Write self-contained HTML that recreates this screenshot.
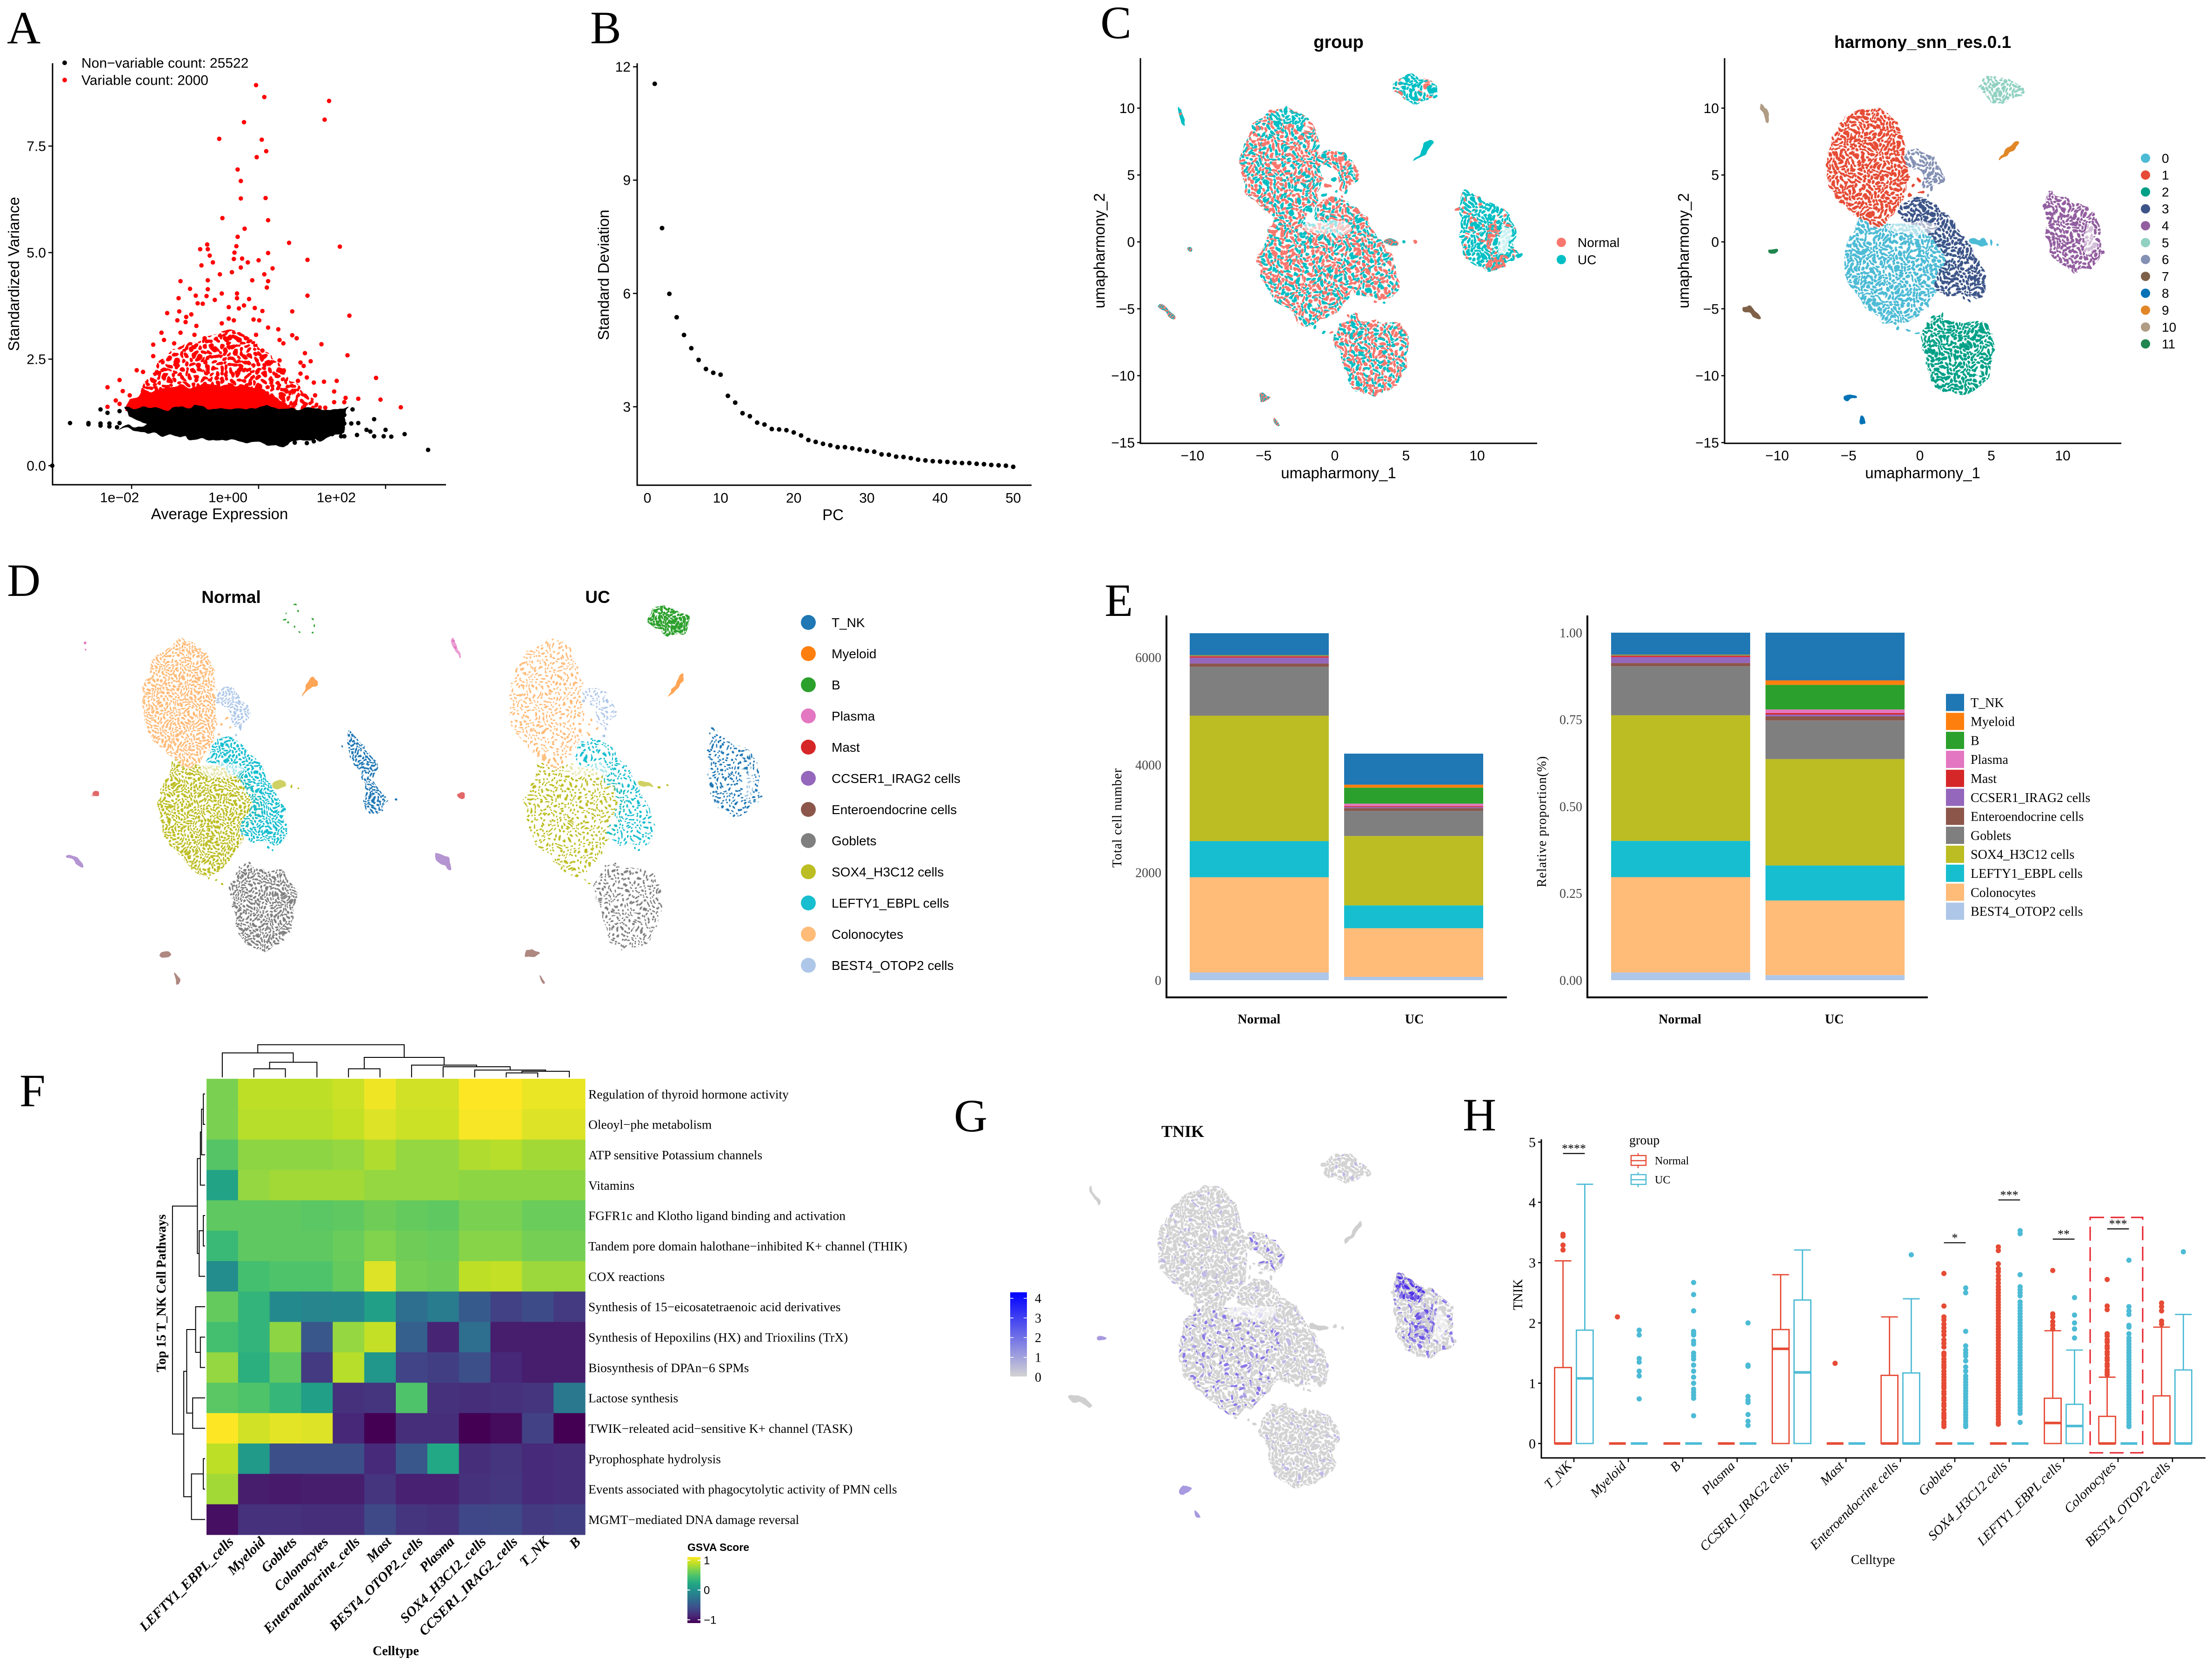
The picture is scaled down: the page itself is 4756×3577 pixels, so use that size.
<!DOCTYPE html>
<html lang="en">
<head>
<meta charset="utf-8">
<title>Single-cell analysis multi-panel figure</title>
<style>
html,body{margin:0;padding:0;background:#fff}
svg{display:block}
.panel-letter{font-family:"Liberation Serif",serif;font-size:100px;fill:#000}
.sans{font-family:"Liberation Sans",sans-serif}
.serif{font-family:"Liberation Serif",serif}
</style>
</head>
<body>
<svg id="fig" xmlns="http://www.w3.org/2000/svg" width="4756" height="3577" viewBox="0 0 4756 3577">
<defs id="defs">
<filter id="rough" x="-10%" y="-10%" width="120%" height="120%" color-interpolation-filters="sRGB">
<feTurbulence type="fractalNoise" baseFrequency="0.035" numOctaves="2" seed="4" result="n"/>
<feDisplacementMap in="SourceGraphic" in2="n" scale="22" xChannelSelector="R" yChannelSelector="G"/>
</filter>
<linearGradient id="tnik-gradient" x1="0" y1="1" x2="0" y2="0"><stop offset="0" stop-color="#d3d3d3"/><stop offset="1" stop-color="#0000ff"/></linearGradient>
<linearGradient id="gsva-gradient" x1="0" y1="1" x2="0" y2="0">
<stop offset="0" stop-color="#440154"/><stop offset=".1" stop-color="#482475"/><stop offset=".2" stop-color="#414487"/><stop offset=".3" stop-color="#355f8d"/><stop offset=".4" stop-color="#2a788e"/><stop offset=".5" stop-color="#21918c"/><stop offset=".6" stop-color="#22a884"/><stop offset=".7" stop-color="#44bf70"/><stop offset=".8" stop-color="#7ad151"/><stop offset=".9" stop-color="#bddf26"/><stop offset="1" stop-color="#fde725"/>
</linearGradient>
</defs>
<rect x="0" y="0" width="4756" height="3577" fill="#fff"/>

<text class="panel-letter" x="15" y="93">A</text>
<text class="panel-letter" x="1269" y="93">B</text>
<text class="panel-letter" x="2366" y="82">C</text>
<text class="panel-letter" x="15" y="1281">D</text>
<text class="panel-letter" x="2375" y="1324">E</text>
<text class="panel-letter" x="42" y="2378">F</text>
<text class="panel-letter" x="2051" y="2432">G</text>
<text class="panel-letter" x="3145" y="2430">H</text>

<g id="panel-a">
<text class="sans" x="472" y="1116" font-size="33" text-anchor="middle">Average Expression</text>
<text class="sans" x="41" y="589" font-size="33" text-anchor="middle" transform="rotate(-90 41 589)">Standardized Variance</text>
</g>
<g id="panel-b">
<text class="sans" x="1791" y="1118" font-size="33" text-anchor="middle">PC</text>
<text class="sans" x="1309" y="591" font-size="33" text-anchor="middle" transform="rotate(-90 1309 591)">Standard Deviation</text>
</g>
<g id="panel-c1">
<text class="sans" x="2878" y="103" font-size="38" font-weight="700" text-anchor="middle">group</text>
<text class="sans" x="2878" y="1028" font-size="33" text-anchor="middle">umapharmony_1</text>
<text class="sans" x="2375" y="539" font-size="33" text-anchor="middle" transform="rotate(-90 2375 539)">umapharmony_2</text>
</g>
<g id="panel-c2">
<text class="sans" x="4134" y="103" font-size="37" font-weight="700" text-anchor="middle">harmony_snn_res.0.1</text>
<text class="sans" x="4134" y="1028" font-size="33" text-anchor="middle">umapharmony_1</text>
<text class="sans" x="3631" y="539" font-size="33" text-anchor="middle" transform="rotate(-90 3631 539)">umapharmony_2</text>
</g>
<g id="panel-d">
<text class="sans" x="497" y="1296" font-size="37" font-weight="700" text-anchor="middle">Normal</text>
<text class="sans" x="1285" y="1296" font-size="37" font-weight="700" text-anchor="middle">UC</text>
</g>
<g id="panel-e">
<text class="serif" x="2411" y="1758" font-size="28" letter-spacing="1" text-anchor="middle" transform="rotate(-90 2411 1758)">Total cell number</text>
<text class="serif" x="3324" y="1766" font-size="28" letter-spacing="1" text-anchor="middle" transform="rotate(-90 3324 1766)">Relative proportion(%)</text>
</g>
<g id="panel-f">
<text class="serif" x="851" y="3558" font-size="28" font-weight="700" text-anchor="middle">Celltype</text>
<text class="serif" x="356" y="2780" font-size="28" font-weight="700" text-anchor="middle" transform="rotate(-90 356 2780)">Top 15 T_NK Cell Pathways</text>
<text class="sans" x="1478" y="3334" font-size="23" font-weight="700">GSVA Score</text>
<rect x="1478" y="3347" width="28" height="142" fill="url(#gsva-gradient)"/>
</g>
<g id="panel-g">
<text class="serif" x="2543" y="2444" font-size="36" font-weight="700" text-anchor="middle">TNIK</text>
<rect x="2172" y="2778" width="36" height="181" fill="url(#tnik-gradient)"/>
</g>
<g id="panel-h">
<text class="serif" x="4027" y="3362" font-size="28" text-anchor="middle">Celltype</text>
<text class="serif" x="3273" y="2783" font-size="28" text-anchor="middle" transform="rotate(-90 3273 2783)">TNIK</text>
<text class="serif" x="3503" y="2460" font-size="28">group</text>
<g>
<line x1="3522" y1="2479" x2="3522" y2="2511" stroke="#E64B35" stroke-width="2.5"/>
<rect x="3507" y="2484" width="32" height="21" fill="#fff" stroke="#E64B35" stroke-width="2.5"/>
<line x1="3507" y1="2495" x2="3539" y2="2495" stroke="#E64B35" stroke-width="2.5"/>
<text class="serif" x="3558" y="2503" font-size="24">Normal</text>
</g>
<g>
<line x1="3522" y1="2520" x2="3522" y2="2552" stroke="#4DBBD5" stroke-width="2.5"/>
<rect x="3507" y="2525" width="32" height="21" fill="#fff" stroke="#4DBBD5" stroke-width="2.5"/>
<line x1="3507" y1="2536" x2="3539" y2="2536" stroke="#4DBBD5" stroke-width="2.5"/>
<text class="serif" x="3558" y="2544" font-size="24">UC</text>
</g>
</g>
</svg>

<script>
/* ---------- Panel A data: log10 average expression, standardized variance ---------- */
const aLegendLabels = ["Non\u2212variable count: 25522", "Variable count: 2000"];
const aYTicks = [0, 2.5, 5, 7.5];
const aYTickLabels = ["0.0", "2.5", "5.0", "7.5"];
const aXTicks = [-2, 0, 2];
const aXTickLabels = ["1e\u221202", "1e+00", "1e+02"];
const aVariableLogExpr = [-0.04,0.09,1.11,1.04,-0.23,-0.62,0.05,0.12,-0.03,-0.33,-0.28,0.11,-0.28,-0.57,0.15,-0.22,-0.33,0.48,1.28,-0.35,-0.81,-0.92,-0.80,-0.38,0.15,-0.77,-0.39,0.77,0,-0.26,-0.17,-0.72,-0.90,-0.28,0.22,-0.42,-0.61,0.09,-1.23,-0.80,-0.10,0.15,0.13,-1.08,-0.80,-0.34,-0.99,0.77,-0.58,-1.26,-0.82,-0.15,-0.34,-0.96,-0.88,-0.69,-1.44,-1.25,-0.47,-0.23,-0.31,-0.06,0.06,0.53,1.43,-1.06,-1.14,-1.28,-0.47,-0.39,-1.15,-0.08,0.01,-0.58,-0.98,0.15,0.31,-1.23,-1.53,-1.01,-0.04,0.53,0.60,-0.85,-0.53,-0.20,0.33,-1.49,-1.66,0.99,0.39,-1.33,-0.74,-0.42,0.06,0.73,1.40,-1.66,0.66,0.82,0.33,1.85,-2.19,-2.38,-2.14,1.92,2.24,1.57,1.37,1.23,1.03,0.87,0.66,0.76,0.71,0.62,-1.92,-1.82,0.89,1.19,0.44,1.35,1.19,1.05,-2.38,-2.25,-2.19,-2.03];
const aVariableVariance = [8.93,8.65,8.56,8.12,8.06,7.67,7.65,7.38,7.24,6.95,6.68,6.28,6.27,5.81,5.76,5.56,5.37,5.23,5.14,5.15,5.19,5.08,5.08,5.0,4.99,4.93,4.85,4.83,4.82,4.86,4.77,4.77,4.70,4.65,4.63,4.54,4.49,4.49,4.33,4.35,4.35,4.33,4.18,4.15,4.14,4.04,3.99,3.99,4.04,3.93,3.98,3.91,3.93,3.81,3.80,3.89,3.58,3.62,3.72,3.76,3.69,3.70,3.63,3.62,3.52,3.55,3.49,3.41,3.45,3.41,3.37,3.43,3.41,3.34,3.28,3.24,3.2,3.12,3.12,3.07,3.07,3.06,2.99,2.99,2.99,2.99,2.95,2.95,2.84,2.85,2.87,2.87,2.82,2.78,2.70,2.64,2.59,2.57,2.42,2.45,2.47,2.06,2.01,1.84,1.75,1.55,1.37,1.57,1.59,1.99,1.97,1.95,2.16,2.07,2.34,1.99,2.24,2.2,1.65,1.74,1.74,1.49,1.49,1.36,1.38,1.53,1.45,1.65];
const aOtherLogExpr = [-2.49,-2.38,-2.19,-2.97,-2.68,-2.68,-2.49,-2.35,-2.19,-2.49,-2.35,-2.23,1.35,1.48,1.35,1.35,1.57,1.46,1.82,1.55,1.70,1.76,2.0,1.82,1.97,2.09,2.30,2.67,-3.25,0.76,0.87,0.57,1.16,1.30,1.09,0.92,1.09];
const aOtherVariance = [1.32,1.24,1.28,1.0,1.0,0.97,0.99,0.99,1.0,0.94,0.92,0.90,1.19,1.32,0.99,0.69,1.0,0.99,1.09,0.72,0.84,0.80,0.84,0.69,0.69,0.68,0.74,0.37,0,0.53,0.57,0.54,0.74,0.69,0.90,1.07,1.15];
const aBlackDensityRegion = [[-2.09,1.36],[0.95,1.36],[0.95,0.62],[0.66,0.55],[0.23,0.47],[-0.31,0.55],[-1.17,0.66],[-2.25,0.85],[-1.76,0.96],[-2.03,1.15]];
const aBlackSparseRegion = [[0.9,1.36],[1.38,1.32],[1.35,0.85],[1.0,0.58],[0.9,0.6]];
const aRedDenseRegion = [[-2.08,1.25],[-2.03,1.55],[-1.76,1.72],[-1.39,1.82],[-0.85,1.9],[-0.42,1.9],[0.06,1.82],[0.33,1.55],[0.7,1.25]];
const aRedSparseRegion = [[-1.95,1.6],[-1.6,2.4],[-1.28,2.85],[-0.85,2.95],[-0.53,3.25],[-0.1,3.05],[0.23,2.45],[0.75,1.7],[1.15,1.3],[0.5,1.3],[-1.5,1.5]];

/* ---------- Panel B data ---------- */
const bPCs = [1,2,3,4,5,6,7,8,9,10,11,12,13,14,15,16,17,18,19,20,21,22,23,24,25,26,27,28,29,30,31,32,33,34,35,36,37,38,39,40,41,42,43,44,45,46,47,48,49,50];
const bStdDev = [11.55,7.73,5.99,5.37,4.90,4.55,4.24,4.0,3.9,3.85,3.29,3.11,2.83,2.75,2.58,2.53,2.41,2.4,2.38,2.32,2.24,2.12,2.07,2.02,1.98,1.93,1.93,1.90,1.87,1.83,1.81,1.74,1.73,1.68,1.67,1.64,1.6,1.58,1.56,1.55,1.54,1.52,1.51,1.51,1.49,1.48,1.46,1.45,1.44,1.41];
const bXTicks = [0,10,20,30,40,50];
const bYTicks = [3,6,9,12];

/* ---------- UMAP cluster outlines in UMAP units ---------- */
const umapXTicks = [-10,-5,0,5,10];
const umapXTickLabels = ["\u221210","\u22125","0","5","10"];
const umapYTicks = [10,5,0,-5,-10,-15];
const umapYTickLabels = ["10","5","0","\u22125","\u221210","\u221215"];
const cluster0Outline = [[-4.18,2.2],[-2.4,1.4],[0.2,1.3],[1.9,0.3],[2.8,-1.4],[1.8,-2.8],[1.1,-3.9],[0.3,-5.2],[-1.38,-6.3],[-2.4,-6.2],[-3.5,-5.0],[-4.9,-3.7],[-5.5,-1.44],[-5.0,0.02],[-4.4,1.25]];
const cluster1Outline = [[-3.16,10.2],[-1.7,9.4],[-1.15,7.84],[-0.9,5.88],[-0.9,3.44],[-1.7,2.22],[-2.91,0.95],[-3.6,1.3],[-4.9,2.4],[-6.2,3.44],[-6.75,5.4],[-6.45,7.35],[-5.4,9.2],[-4.2,9.9]];
const cluster2Outline = [[1.43,-5.2],[1.94,-5.9],[4.23,-5.85],[5.35,-7.06],[5.05,-8.77],[4.85,-10.48],[2.96,-11.55],[1.25,-11.15],[0.7,-9.99],[0.45,-8.52],[-0.3,-7.06],[0.92,-5.8]];
const cluster3Outline = [[-0.87,3.4],[0.66,3.3],[2.4,1.49],[3.7,-0.46],[4.7,-2.9],[4.4,-4.1],[2.96,-4.2],[1.0,-3.8],[1.1,-2.4],[2.0,-1.2],[0.9,0.4],[-0.3,1.3],[-1.8,1.73]];
const cluster4Outline = [[9.08,4.2],[9.95,3.3],[11.75,2.55],[12.7,1.49],[12.6,-0.46],[13.0,-1.07],[11.1,-2.35],[10.25,-2.05],[8.9,-0.95],[8.9,1.25],[8.65,2.71]];
const cluster5Outline = [[5.51,12.65],[6.65,11.95],[7.3,11.38],[7.2,10.7],[6.3,10.6],[5.51,10.3],[4.3,11.05],[3.95,11.7],[4.85,12.4]];
const cluster6Outline = [[-0.36,7.0],[0.75,6.5],[1.7,5.4],[1.6,4.55],[0.66,3.75],[-0.1,4.42],[0.41,5.15],[-1.05,5.64],[-1.05,6.45]];
const cluster7Outline = [[-12.5,-4.6],[-11.0,-5.45],[-11.15,-5.9],[-12.4,-5.15]];
const cluster8aOutline = [[-5.2,-11.3],[-4.1,-11.55],[-5.05,-12.0],[-5.4,-11.85]];
const cluster8bOutline = [[-4.3,-12.85],[-3.75,-13.65],[-4.05,-13.85],[-4.35,-13.3]];
const cluster9Outline = [[6.6,7.7],[6.95,7.55],[6.55,6.8],[6.0,6.4],[5.45,5.95],[6.25,7.1]];
const cluster10Outline = [[-11.0,10.35],[-10.75,9.67],[-10.45,8.75],[-10.75,8.9],[-11.1,9.8]];
const cluster11Outline = [[-10.55,-0.45],[-10.0,-0.5],[-10.05,-0.9],[-10.55,-0.85]];
const cluster0TailOutline = [[3.4,0.4],[4.5,0.1],[4.6,-0.15],[3.4,-0.2]];
const clusterIds = [0,1,2,3,4,5,6,7,8,8,9,10,11,0];
const clusterShapes = [cluster0Outline,cluster1Outline,cluster2Outline,cluster3Outline,cluster4Outline,cluster5Outline,cluster6Outline,cluster7Outline,cluster8aOutline,cluster8bOutline,cluster9Outline,cluster10Outline,cluster11Outline,cluster0TailOutline];
const clusterIsSmall = [false,false,false,false,false,false,false,true,true,true,true,true,true,true];
const clusterColors = ["#4DBBD5","#E64B35","#00A087","#3C5488","#925E9F","#91D1C2","#8491B4","#7E6148","#0072B5","#E18727","#B09C85","#20854E"];
const clusterLabels = ["0","1","2","3","4","5","6","7","8","9","10","11"];
const groupLabels = ["Normal","UC"];
const groupColors = ["#F8766D","#00BFC4"];
const groupTealCap = [[-5.0,9.0],[-3.27,10.1],[-1.9,9.4],[-1.3,8.1],[-2.7,8.6],[-4.2,8.7]];
const groupSalmonPatchA = [[10.5,-1.2],[12.6,-1.05],[11.5,-2.1],[10.7,-2.2]];
const groupSalmonPatchB = [[10.8,1.6],[11.5,1.5],[11.2,0],[10.5,-0.4]];
const normalTNKOutline = [[9.1,3.95],[10.04,3.19],[11.1,2.16],[11.5,1.32],[11.26,-0.1],[12.66,-1.03],[11.87,-1.55],[11.1,-2.13],[10.4,-1.74],[10.58,-0.1],[10.29,0.94],[9.5,1.74],[9.24,2.77]];
const umapSparseHole = [[-2.09,1.39],[0.9,1.7],[1.27,0.76],[-0.6,0.45],[-2.48,0.9]];
const tnkHole = [[11.7,1.5],[12.3,0.9],[12.3,-0.6],[11.6,-1.15],[11.45,0]];
const umapStrayX = [0.6,0.9,0.3,-0.2,-0.5,0.1,-0.9,1.2,1.6,-0.7,-0.3,-1.5,3,3.4,5.5,4.9,0.9,0.5,8.7,-0.6,-0.2,12.9,11.9,-10.9,-10.85];
const umapStrayY = [3.5,3.9,3.1,4.6,4.2,3.9,4.8,-6,-5.4,-6.6,-6.9,-6.4,-4.4,-4.5,-0.1,0,-5.6,-6.2,2.6,3.6,3.3,-0.9,-1.7,9.9,9.5];
const umapStrayCluster = [6,6,3,1,1,1,1,2,2,0,0,0,3,3,0,0,2,2,4,1,3,4,4,10,10];

/* ---------- Panel D data ---------- */
const cellTypes = ["T_NK","Myeloid","B","Plasma","Mast","CCSER1_IRAG2 cells","Enteroendocrine cells","Goblets","SOX4_H3C12 cells","LEFTY1_EBPL cells","Colonocytes","BEST4_OTOP2 cells"];
const cellColors = ["#1f77b4","#ff7f0e","#2ca02c","#e377c2","#d62728","#9467bd","#8c564b","#7f7f7f","#bcbd22","#17becf","#ffbb78","#aec7e8"];
const clusterCellIndex = [8,10,7,9,0,2,11,5,6,1,3,4];

/* ---------- Panel E data ---------- */
const eConditions = ["Normal","UC"];
const eNormalCounts = [408,6,10,5,25,110,60,909,2331,672,1769,143];
const eUCCounts = [578,55,298,44,17,22,50,468,1289,424,904,61];
const eCountTicks = [0,2000,4000,6000];
const eProportionTicks = [0,0.25,0.5,0.75,1];
const eProportionTickLabels = ["0.00","0.25","0.50","0.75","1.00"];

/* ---------- Panel F data ---------- */
const fColumns = ["LEFTY1_EBPL_cells","Myeloid","Goblets","Colonocytes","Enteroendocrine_cells","Mast","BEST4_OTOP2_cells","Plasma","SOX4_H3C12_cells","CCSER1_IRAG2_cells","T_NK","B"];
const fRows = ["Regulation of thyroid hormone activity","Oleoyl\u2212phe metabolism","ATP sensitive Potassium channels","Vitamins","FGFR1c and Klotho ligand binding and activation","Tandem pore domain halothane\u2212inhibited K+ channel (THIK)","COX reactions","Synthesis of 15\u2212eicosatetraenoic acid derivatives","Synthesis of Hepoxilins (HX) and Trioxilins (TrX)","Biosynthesis of DPAn\u22126 SPMs","Lactose synthesis","TWIK\u2212releated acid\u2212sensitive K+ channel (TASK)","Pyrophosphate hydrolysis","Events associated with phagocytolytic activity of PMN cells","MGMT\u2212mediated DNA damage reversal"];
const fRow1 = [.6,.8,.8,.8,.84,.96,.86,.86,1,1,.94,.94];
const fRow2 = [.6,.78,.78,.78,.82,.9,.84,.84,.98,.98,.9,.9];
const fRow3 = [.46,.66,.66,.66,.68,.76,.68,.68,.76,.78,.72,.72];
const fRow4 = [.16,.68,.72,.72,.72,.68,.68,.68,.66,.66,.66,.66];
const fRow5 = [.5,.5,.5,.48,.5,.56,.52,.5,.6,.6,.54,.54];
const fRow6 = [.34,.5,.5,.5,.54,.62,.56,.54,.64,.64,.58,.58];
const fRow7 = [-.04,.4,.44,.44,.52,.9,.58,.56,.8,.82,.7,.7];
const fRow8 = [.52,.3,-.06,-.1,-.08,.12,-.28,-.18,-.44,-.62,-.54,-.66];
const fRow9 = [.4,.3,.66,-.46,.68,.82,-.4,-.8,-.28,-.84,-.84,-.84];
const fRow10 = [.68,.26,.5,-.66,.78,.04,-.6,-.64,-.52,-.78,-.84,-.84];
const fRow11 = [.48,.44,.32,.12,-.72,-.7,.44,-.72,-.74,-.72,-.7,-.2];
const fRow12 = [1,.86,.92,.9,-.78,-1,-.74,-.74,-1,-.94,-.62,-1];
const fRow13 = [.8,.08,-.52,-.52,-.52,-.76,-.46,.2,-.74,-.7,-.76,-.74];
const fRow14 = [.72,-.84,-.86,-.84,-.84,-.7,-.82,-.82,-.72,-.68,-.76,-.74];
const fRow15 = [-.92,-.72,-.72,-.74,-.74,-.56,-.7,-.72,-.58,-.56,-.66,-.64];
const fMatrix = [fRow1,fRow2,fRow3,fRow4,fRow5,fRow6,fRow7,fRow8,fRow9,fRow10,fRow11,fRow12,fRow13,fRow14,fRow15];
const fColorTicks = [1,0,-1];
const fColorTickLabels = ["1","0","\u22121"];
const fColMerges = [[1,2,21],[12,3,37],[0,13,60],[4,5,21],[9,10,11],[16,11,15],[8,17,18],[7,18,26],[6,19,30],[15,20,49],[14,21,80]];
const fRowMerges = [[0,1,3],[15,2,6],[16,3,8],[4,5,3],[18,6,10],[17,19,13],[8,9,8],[7,21,16],[10,11,21],[22,23,31],[12,13,3],[25,14,23],[24,26,36],[20,27,55]];

/* ---------- Panel G data ---------- */
const gColorTicks = [4,3,2,1,0];
const gExpressionLevels = ["gMid","gLow","gLow","gLow","gMid","gLow","gMid","gLow","gMid","gLow","gLow","gMid","gMid","gLow"];
const gTNKHighRegion = [[9.0,4.1],[9.9,3.3],[11.2,2.6],[10.4,1.7],[9.5,2.0],[8.9,2.5]];
const gTNKMidRegion = [[10.6,1.5],[11.6,1.5],[11.4,0],[11.3,-1.1],[10.2,-1.2],[9.6,-0.6]];

/* ---------- Panel H data ---------- */
const hCategories = ["T_NK","Myeloid","B","Plasma","CCSER1_IRAG2 cells","Mast","Enteroendocrine cells","Goblets","SOX4_H3C12 cells","LEFTY1_EBPL cells","Colonocytes","BEST4_OTOP2 cells"];
const hYTicks = [0,1,2,3,4,5];
const hNormalQ3 = [1.26,0,0,0,1.89,0,1.13,0,0,.75,.45,.79];
const hNormalMedian = [0,0,0,0,1.57,0,0,0,0,.34,0,0];
const hNormalWhisker = [3.03,0,0,0,2.8,0,2.1,0,0,1.87,1.1,1.93];
const hUCQ3 = [1.88,0,0,0,2.38,0,1.17,0,0,.65,0,1.22];
const hUCMedian = [1.08,0,0,0,1.18,0,0,0,0,.29,0,0];
const hUCWhisker = [4.3,0,0,0,3.21,0,2.4,0,0,1.55,0,2.14];
const hNormalOutliers = [
 [3.47,3.44,3.29,3.21],[2.1],[],[],[],[1.33],[],
 [2.82,2.28,2.1,2.05,1.98,1.92,1.86,1.8,1.72,1.66,1.6,1.5,1.46,1.4,1.35,1.3,1.26,1.2,1.15,1.1,1.05,1,.96,.92,.86,.82,.76,.72,.66,.62,.56,.5,.46,.42,.36,.32,.28],
 [3.26,3.2,2.98,2.9,2.85,2.78,2.72,2.66,2.6,2.55,2.5,2.45,2.4,2.35,2.3,2.25,2.2,2.15,2.1,2.05,2,1.95,1.9,1.85,1.8,1.75,1.7,1.65,1.6,1.55,1.5,1.45,1.4,1.35,1.3,1.25,1.2,1.15,1.1,1.05,1,.95,.9,.85,.8,.75,.7,.65,.6,.55,.5,.45,.4,.35,.32],
 [2.87,2.15,2.1,2.02,1.96,1.9],
 [2.72,2.28,2.22,1.82,1.78,1.72,1.68,1.62,1.58,1.52,1.48,1.42,1.38,1.32,1.28,1.22,1.18,1.14],
 [2.33,2.27,2.2,2.03,1.98]];
const hUCOutliers = [
 [],[1.88,1.8,1.41,1.35,1.2,1.12,.74],
 [2.67,2.47,2.2,1.86,1.83,1.8,1.7,1.65,1.5,1.45,1.4,1.3,1.2,1.1,1,.9,.85,.8,.75,.46],
 [2,1.3,1.28,.78,.72,.68,.48,.37,.3],[],[],[3.13],
 [2.58,2.5,1.86,1.62,1.55,1.5,1.45,1.37,1.27,1.2,1.12,1.07,1.02,.97,.92,.87,.82,.77,.72,.67,.62,.57,.52,.47,.42,.37,.32,.28],
 [3.53,3.48,2.8,2.6,2.55,2.5,2.45,2.35,2.3,2.25,2.2,2.15,2.1,2.05,2,1.95,1.9,1.85,1.8,1.75,1.7,1.65,1.6,1.55,1.5,1.45,1.4,1.35,1.3,1.25,1.2,1.15,1.1,1.05,1,.95,.9,.85,.8,.75,.7,.65,.6,.55,.5,.35],
 [2.42,2.13,2,1.9,1.75],
 [3.04,2.27,2.2,2.14,1.96,1.93,1.82,1.75,1.7,1.65,1.6,1.55,1.5,1.45,1.4,1.35,1.3,1.25,1.2,1.15,1.1,1.05,1,.95,.9,.85,.8,.75,.7,.65,.6,.55,.5,.45,.4,.35,.3,.28],
 [3.18]];
const hSigLabels = ["****","*","***","**","***"];
const hSigCategory = [0,7,8,9,10];
const hSigValue = [4.81,3.33,4.04,3.39,3.56];

/* ---------- helpers ---------- */
const NS = "http://www.w3.org/2000/svg";
const defs = document.getElementById("defs");
function mk(tag, attrs, parent, text) {
  const el = document.createElementNS(NS, tag);
  for (const k in attrs) el.setAttribute(k, attrs[k]);
  if (text !== undefined) el.textContent = text;
  parent.appendChild(el);
  return el;
}
function label(parent, x, y, str, size, cls, anchor) {
  return mk("text", {x: x, y: y + size * 0.35, "font-size": size, "class": cls, "text-anchor": anchor || "start", fill: "#000"}, parent, str);
}
const speckle = [[.04,.09],[.18,.03],[.31,.12],[.46,.06],[.59,.15],[.74,.04],[.88,.11],[.96,.24],[.09,.23],[.24,.28],[.38,.22],[.52,.30],[.67,.25],[.81,.31],[.02,.38],[.16,.43],[.30,.39],[.44,.46],[.60,.41],[.73,.47],[.90,.42],[.08,.55],[.23,.58],[.37,.61],[.51,.56],[.66,.62],[.82,.57],[.96,.60],[.13,.71],[.28,.75],[.43,.72],[.57,.78],[.72,.74],[.87,.72],[.04,.86],[.20,.90],[.35,.87],[.50,.93],[.65,.89],[.80,.91],[.94,.84]];
function makeLayer(id, colors, r, size, rot, offset) {
  const p = mk("pattern", {id: id, width: size, height: size, patternUnits: "userSpaceOnUse", patternTransform: "rotate(" + rot + ")"}, defs);
  speckle.forEach(function (s, i) {
    mk("circle", {cx: (s[0] * size).toFixed(1), cy: (s[1] * size).toFixed(1), r: r, fill: colors[(i + offset) % colors.length]}, p);
  });
}
function makePattern(id, colors, r, size) {
  makeLayer(id, colors, r, size * 1.2, 13, 0);
  makeLayer(id + "b", colors, r, size * 1.4, -31, 3);
}
function paintRegion(parent, d, patternId, name) {
  [patternId, patternId + "b"].forEach(function (id) {
    const el = mk("path", {d: d, fill: "url(#" + id + ")"}, parent);
    
    
  });
}
function roughGroup(parent, name) {
  const gr = mk("g", {filter: "url(#rough)"}, parent);
  
  
  return gr;
}
function blobPath(pts, fx, fy) {
  const p = pts.map(function (q) { return [fx(q[0]), fy(q[1])]; });
  const n = p.length;
  const mid = function (a, b) { return [(a[0] + b[0]) / 2, (a[1] + b[1]) / 2]; };
  const s = mid(p[n - 1], p[0]);
  let d = "M" + s[0].toFixed(1) + " " + s[1].toFixed(1);
  for (let i = 0; i < n; i++) {
    const m = mid(p[i], p[(i + 1) % n]);
    d += "Q" + p[i][0].toFixed(1) + " " + p[i][1].toFixed(1) + " " + m[0].toFixed(1) + " " + m[1].toFixed(1);
  }
  return d + "Z";
}
function polyPath(pts, fx, fy) {
  return "M" + pts.map(function (q) { return fx(q[0]).toFixed(1) + " " + fy(q[1]).toFixed(1); }).join("L") + "Z";
}
function axisFrame(g, xL, xR, yT, yB, width) {
  const el = mk("path", {d: "M" + xL + " " + yT + "V" + yB + "H" + xR, fill: "none", stroke: "#000", "stroke-width": width}, g);
  
  
}
function yAxisTicks(g, vals, labels, fy, xAxis, len, cls, size, color) {
  vals.forEach(function (v, i) {
    if (len > 0) {
      const t = mk("line", {x1: xAxis - len, x2: xAxis, y1: fy(v), y2: fy(v), stroke: "#000", "stroke-width": 2.5}, g);
      
      
    }
    const lb = label(g, xAxis - len - 5, fy(v), labels[i], size, cls, "end");
    lb.setAttribute("fill", color || "#000");
    
    
  });
}
function xAxisTicks(g, vals, labels, fx, lx, yAxis, len, labelY, cls, size) {
  vals.forEach(function (v, i) {
    if (len > 0) {
      const t = mk("line", {x1: fx(v), x2: fx(v), y1: yAxis, y2: yAxis + len, stroke: "#000", "stroke-width": 2.5}, g);
      
      
    }
    const lb = label(g, lx(v), labelY, labels[i], size, cls, "middle");
    
    
  });
}
function strayPoints(parent, fx, fy, colorOf, r) {
  umapStrayX.forEach(function (v, i) {
    const c = mk("circle", {cx: fx(v), cy: fy(umapStrayY[i]), r: r, fill: colorOf(i)}, parent);
    
    
  });
}
function whiteHole(parent, pts, fx, fy, opacity, name) {
  const h = mk("path", {d: blobPath(pts, fx, fy), fill: "#fff", "fill-opacity": opacity}, parent);
  
  
}

/* ---------- texture patterns ---------- */
clusterColors.forEach(function (c, i) { makePattern("c" + i, [c], 3.3, 48); });
cellColors.forEach(function (c, i) {
  makePattern("dn" + i, [c], 2.3, 40);
  makePattern("du" + i, [c], 2.2, 54);
});
makePattern("dnSparse", [cellColors[2]], 2.6, 170);
makePattern("duDense", [cellColors[2]], 3, 38);
const s = groupColors[0], t = groupColors[1];
makePattern("gpMix", [s, t, s, t, s, t, s], 3.4, 46);
makePattern("gpMixFine", [s, t], 3, 18);
makePattern("gpTeal", [t, t, t, t, t, s, t], 3.4, 46);
makePattern("gpSalmon", [s, s, t, s, s], 3.4, 38);
const g0 = "#d3d3d3";
makePattern("gLow", [g0, g0, g0, g0, g0, g0, g0, "#c2b9e6", g0, g0, g0], 3.5, 46);
makePattern("gMid", [g0, g0, g0, "#a99ce4", g0, g0, g0, "#8a74e8", g0, g0, g0], 3.5, 46);
makePattern("gHigh", ["#5a3ee8", "#7a62e6", g0, "#4a2fe8", "#8f7de6"], 3.5, 44);
makePattern("gMidDense", ["#8f7de6", g0, "#6a50e6", "#b0a5e4", g0], 3.5, 44);
makePattern("aRedSparse", ["#ff0000"], 4.8, 72);
makePattern("aBlackSparse", ["#000"], 4.8, 32);

/* ---------- Panel A ---------- */
(function () {
  const g = document.getElementById("panel-a");
  const fx = function (v) { return 556 + 136.5 * v; };
  const lx = function (v) { return 490 + 116.5 * v; };
  const fy = function (v) { return 1001 - 91.6 * v; };
  const rg = roughGroup(g, "gene-density-regions");
  paintRegion(rg, blobPath(aRedSparseRegion, fx, fy), "aRedSparse", "variable-genes-mid-density");
  const de = mk("path", {d: polyPath(aRedDenseRegion, fx, fy), fill: "#ff0000"}, rg);
  
  
  paintRegion(rg, polyPath(aBlackSparseRegion, fx, fy), "aBlackSparse", "non-variable-genes-sparse-density");
  const bl = mk("path", {d: polyPath(aBlackDensityRegion, fx, fy), fill: "#000"}, rg);
  
  
  aVariableLogExpr.forEach(function (v, i) {
    const c = mk("circle", {cx: fx(v), cy: fy(aVariableVariance[i]), r: 4.8, fill: "#ff0000"}, g);
    
    
  });
  aOtherLogExpr.forEach(function (v, i) {
    const c = mk("circle", {cx: fx(v), cy: fy(aOtherVariance[i]), r: 4.8, fill: "#000"}, g);
    
    
  });
  axisFrame(g, 113, 959, 136, 1042, 3);
  yAxisTicks(g, aYTicks, aYTickLabels, fy, 113, 9, "sans", 30);
  xAxisTicks(g, aXTicks, aXTickLabels, fx, lx, 1042, 9, 1069, "sans", 30);
  aLegendLabels.forEach(function (txt, i) {
    const y = 135 + i * 37;
    const d = mk("circle", {cx: 139, cy: y, r: 5, fill: i === 0 ? "#000" : "#ff0000"}, g);
    
    
    const l = label(g, 175, y, txt, 30, "sans");
    
    
  });
})();

/* ---------- Panel B ---------- */
(function () {
  const g = document.getElementById("panel-b");
  const fx = function (v) { return 1392 + 15.73 * v; };
  const fy = function (v) { return 1118 - 81.2 * v; };
  bPCs.forEach(function (pc, i) {
    const c = mk("circle", {cx: fx(pc), cy: fy(bStdDev[i]), r: 5, fill: "#000"}, g);
    
    
  });
  axisFrame(g, 1370, 2218, 136, 1043, 3);
  yAxisTicks(g, bYTicks, bYTicks.map(String), fy, 1370, 9, "sans", 30);
  xAxisTicks(g, bXTicks, bXTicks.map(String), fx, fx, 1043, 0, 1070, "sans", 30);
})();

/* ---------- Panel C ---------- */
const umapY = function (v) { return 520 - 28.76 * v; };
(function () {
  const g = document.getElementById("panel-c1");
  const fx = function (v) { return 2870 + 30.6 * v; };
  const rg = roughGroup(g, "group-umap-cells");
  clusterShapes.forEach(function (pts, i) {
    const id = clusterIds[i];
    const d = blobPath(pts, fx, umapY);
    if (clusterIsSmall[i]) {
      const teal = id === 9 || id === 10;
      const el = mk("path", {d: d, fill: teal ? groupColors[1] : "url(#gpMixFine)"}, rg);
      
      
    } else {
      paintRegion(rg, d, id === 5 || id === 4 ? "gpTeal" : "gpMix", "group-umap-cluster");
    }
  });
  whiteHole(rg, groupTealCap, fx, umapY, 1, "colonocyte-cap-mask");
  paintRegion(rg, blobPath(groupTealCap, fx, umapY), "gpTeal", "colonocyte-cap-uc");
  whiteHole(rg, tnkHole, fx, umapY, 0.8, "tnk-low-density-area");
  [groupSalmonPatchA, groupSalmonPatchB].forEach(function (pts) {
    paintRegion(rg, blobPath(pts, fx, umapY), "gpSalmon", "tnk-normal-patch");
  });
  whiteHole(rg, umapSparseHole, fx, umapY, 0.6, "low-density-area");
  strayPoints(rg, fx, umapY, function (i) { return groupColors[i % 2]; }, 3.6);
  axisFrame(g, 2452, 3305, 125, 953, 3);
  yAxisTicks(g, umapYTicks, umapYTickLabels, umapY, 2452, 7, "sans", 30);
  xAxisTicks(g, umapXTicks, umapXTickLabels, fx, fx, 953, 0, 979, "sans", 30);
  groupLabels.forEach(function (txt, i) {
    const y = 521 + i * 37;
    const d = mk("circle", {cx: 3357, cy: y, r: 10, fill: groupColors[i]}, g);
    
    
    const l = label(g, 3392, y, txt, 28, "sans");
    
    
  });
})();
(function () {
  const g = document.getElementById("panel-c2");
  const fx = function (v) { return 4128 + 30.7 * v; };
  const rg = roughGroup(g, "cluster-umap-cells");
  clusterShapes.forEach(function (pts, i) {
    const id = clusterIds[i];
    const d = blobPath(pts, fx, umapY);
    if (clusterIsSmall[i]) {
      const el = mk("path", {d: d, fill: clusterColors[id]}, rg);
      
      
    } else {
      paintRegion(rg, d, "c" + id, "cluster-umap-region");
    }
  });
  whiteHole(rg, tnkHole, fx, umapY, 0.6, "tnk-low-density-area");
  whiteHole(rg, umapSparseHole, fx, umapY, 0.6, "low-density-area");
  strayPoints(rg, fx, umapY, function (i) { return clusterColors[umapStrayCluster[i]]; }, 3.6);
  axisFrame(g, 3708, 4561, 125, 953, 3);
  yAxisTicks(g, umapYTicks, umapYTickLabels, umapY, 3708, 7, "sans", 30);
  xAxisTicks(g, umapXTicks, umapXTickLabels, fx, fx, 953, 0, 979, "sans", 30);
  clusterLabels.forEach(function (txt, i) {
    const y = 340 + i * 36.3;
    const d = mk("circle", {cx: 4613, cy: y, r: 10, fill: clusterColors[i]}, g);
    
    
    const l = label(g, 4648, y, txt, 28, "sans");
    
    
  });
})();

/* ---------- Panel D ---------- */
(function () {
  const g = document.getElementById("panel-d");
  const fy = function (v) { return 1688 - 31 * v; };
  const fxN = function (v) { return 491 + 27.8 * v; };
  const fxU = function (v) { return 1279 + 27.8 * v; };
  const rn = roughGroup(g, "normal-umap-cells");
  const ru = roughGroup(g, "uc-umap-cells");
  clusterShapes.forEach(function (pts, i) {
    const id = clusterIds[i];
    const cell = clusterCellIndex[id];
    const small = clusterIsSmall[i];
    const shapeN = id === 4 ? normalTNKOutline : pts;
    if (id !== 10) {
      const dn = blobPath(shapeN, fxN, fy);
      if (small) {
        const n = mk("path", {d: dn, fill: cellColors[cell], opacity: 0.7}, rn);
        
        
      } else {
        paintRegion(rn, dn, id === 5 ? "dnSparse" : "dn" + cell, "normal-umap-region");
      }
    }
    const du = blobPath(pts, fxU, fy);
    if (small) {
      const u = mk("path", {d: du, fill: cellColors[cell], opacity: 0.7}, ru);
      
      
    } else {
      paintRegion(ru, du, id === 5 ? "duDense" : "du" + cell, "uc-umap-region");
    }
  });
  whiteHole(rn, umapSparseHole, fxN, fy, 0.6, "normal-low-density-area");
  whiteHole(ru, umapSparseHole, fxU, fy, 0.6, "uc-low-density-area");
  whiteHole(ru, tnkHole, fxU, fy, 0.6, "uc-tnk-low-density-area");
  strayPoints(rn, fxN, fy, function (i) { return cellColors[clusterCellIndex[umapStrayCluster[i]]]; }, 2.5);
  strayPoints(ru, fxU, fy, function (i) { return cellColors[clusterCellIndex[umapStrayCluster[i]]]; }, 2.5);
  cellTypes.forEach(function (txt, i) {
    const y = 1338 + i * 67;
    const d = mk("circle", {cx: 1738, cy: y, r: 16, fill: cellColors[i]}, g);
    
    
    const l = label(g, 1788, y, txt, 28, "sans");
    
    
  });
})();

/* ---------- Panel E ---------- */
(function () {
  const g = document.getElementById("panel-e");
  const sum = function (a) { return a.reduce(function (p, c) { return p + c; }, 0); };
  const fyCount = function (v) { return 2107 - 0.11567 * v; };
  const fyProp = function (v) { return 2107 - 747 * v; };
  function stack(counts, x, w, fy, norm) {
    let top = norm ? 1 : sum(counts);
    const total = sum(counts);
    counts.forEach(function (c, i) {
      const h = norm ? c / total : c;
      const r = mk("rect", {x: x, y: fy(top), width: w, height: fy(top - h) - fy(top), fill: cellColors[i]}, g);
      
      
      top -= h;
    });
  }
  stack(eNormalCounts, 2558, 299, fyCount, false);
  stack(eUCCounts, 2890, 299, fyCount, false);
  stack(eNormalCounts, 3464, 299, fyProp, true);
  stack(eUCCounts, 3796, 299, fyProp, true);
  axisFrame(g, 2508, 3240, 1323, 2144, 4);
  axisFrame(g, 3413, 4145, 1323, 2144, 4);
  yAxisTicks(g, eCountTicks, eCountTicks.map(String), fyCount, 2502, 0, "serif", 28, "#444");
  yAxisTicks(g, eProportionTicks, eProportionTickLabels, fyProp, 3407, 0, "serif", 28, "#444");
  [[2707, 3041], [3612, 3944]].forEach(function (xs) {
    eConditions.forEach(function (txt, i) {
      const l = label(g, xs[i], 2190, txt, 28, "serif", "middle");
      l.setAttribute("font-weight", "700");
      
      
    });
  });
  cellTypes.forEach(function (txt, i) {
    const y = 1510 + i * 40.8;
    const r = mk("rect", {x: 4184, y: y - 18.5, width: 39, height: 37, fill: cellColors[i]}, g);
    
    
    const l = label(g, 4237, y, txt, 28, "serif");
    
    
  });
})();

/* ---------- Panel F ---------- */
const viridisStops = [[68,1,84],[72,36,117],[65,68,135],[53,95,141],[42,120,142],[33,145,140],[34,168,132],[68,191,112],[122,209,81],[189,223,38],[253,231,37]];
function viridis(v) {
  const u = Math.max(0, Math.min(1, (v + 1) / 2)) * 10;
  const i = Math.min(9, Math.floor(u));
  const f = u - i;
  const c = viridisStops[i].map(function (a, k) { return Math.round(a + (viridisStops[i + 1][k] - a) * f); });
  return "rgb(" + c.join(",") + ")";
}
(function () {
  const g = document.getElementById("panel-f");
  const cellW = (1258 - 444) / fColumns.length;
  const cellH = (3299 - 2319) / fRows.length;
  const colX = function (i) { return 444 + cellW * (i + 0.5); };
  const rowY = function (i) { return 2319 + cellH * (i + 0.5); };
  fMatrix.forEach(function (row, r) {
    row.forEach(function (v, c) {
      const el = mk("rect", {x: colX(c) - cellW / 2, y: rowY(r) - cellH / 2, width: cellW + 0.6, height: cellH + 0.6, fill: viridis(v)}, g);
      
      
    });
  });
  fRows.forEach(function (txt, r) {
    const l = label(g, 1265, rowY(r), txt, 27.5, "serif");
    
    
  });
  fColumns.forEach(function (txt, c) {
    const x = colX(c) + 26, y = 3316;
    const l = mk("text", {x: x, y: y, "font-size": 30, "font-weight": 700, "font-style": "italic", "class": "serif", "text-anchor": "end", transform: "rotate(-45 " + x + " " + y + ")"}, g, txt);
    
    
  });
  function dendrogram(merges, leafCount, leafPos, draw, name) {
    const pos = [], hgt = [];
    for (let i = 0; i < leafCount; i++) { pos[i] = leafPos(i); hgt[i] = 0; }
    merges.forEach(function (m, k) {
      const id = leafCount + k;
      pos[id] = (pos[m[0]] + pos[m[1]]) / 2;
      hgt[id] = m[2];
      const el = mk("path", {d: draw(pos[m[0]], hgt[m[0]], pos[m[1]], hgt[m[1]], m[2]), fill: "none", stroke: "#000", "stroke-width": 2}, g);
      
      
    });
  }
  const colH = function (h) { return 2316 - 0.878 * h; };
  dendrogram(fColMerges, 12, colX, function (a, ha, b, hb, h) {
    return "M" + a + " " + colH(ha) + "V" + colH(h) + "H" + b + "V" + colH(hb);
  }, "column-dendrogram-branch");
  const rowD = function (d) { return 441 - 1.2755 * d; };
  dendrogram(fRowMerges, 15, rowY, function (a, ha, b, hb, h) {
    return "M" + rowD(ha) + " " + a + "H" + rowD(h) + "V" + b + "H" + rowD(hb);
  }, "row-dendrogram-branch");
  const cby = function (v) { return 3418 - 64 * v; };
  fColorTicks.forEach(function (v, i) {
    const t = mk("line", {x1: 1478, x2: 1506, y1: cby(v), y2: cby(v), stroke: "#fff", "stroke-width": 2, "stroke-dasharray": "6 16"}, g);
    
    
    const l = label(g, 1513, cby(v), fColorTickLabels[i], 24, "sans");
    
    
  });
})();

/* ---------- Panel G ---------- */
(function () {
  const g = document.getElementById("panel-g");
  const fx = function (v) { return 2707.5 + 32.77 * v; };
  const fy = function (v) { return 2853 - 30 * v; };
  const rg = roughGroup(g, "tnik-umap-cells");
  clusterShapes.forEach(function (pts, i) {
    const id = clusterIds[i];
    const d = blobPath(pts, fx, fy);
    if (clusterIsSmall[i]) {
      const el = mk("path", {d: d, fill: id === 11 || id === 8 ? "#a89ae0" : "#cfcfcf"}, rg);
      
      
    } else {
      paintRegion(rg, d, gExpressionLevels[i], "tnik-expression-region");
    }
  });
  whiteHole(rg, umapSparseHole, fx, fy, 0.6, "low-density-area");
  whiteHole(rg, tnkHole, fx, fy, 0.6, "tnk-low-density-area");
  paintRegion(rg, blobPath(gTNKHighRegion, fx, fy), "gHigh", "tnik-high-expression-region");
  paintRegion(rg, blobPath(gTNKMidRegion, fx, fy), "gMidDense", "tnik-mid-expression-region");
  strayPoints(rg, fx, fy, function () { return "#d3d3d3"; }, 3.4);
  const cby = function (v) { return 2960 - 42.3 * v; };
  gColorTicks.forEach(function (v) {
    const l = label(g, 2225, cby(v), String(v), 28, "serif");
    
    
    if (v > 0) {
      const t = mk("line", {x1: 2172, x2: 2208, y1: cby(v), y2: cby(v), stroke: "#fff", "stroke-width": 1.5, "stroke-dasharray": "7 22"}, g);
      
      
    }
  });
})();

/* ---------- Panel H ---------- */
(function () {
  const g = document.getElementById("panel-h");
  const fx = function (i) { return 3384 + 117 * i; };
  const fy = function (v) { return 3103 - 129.6 * v; };
  const red = "#E64B35", blue = "#4DBBD5";
  function box(cx, q3, med, whisk, color, outliers) {
    outliers.forEach(function (v) {
      const c = mk("circle", {cx: cx, cy: fy(v), r: 5.6, fill: color}, g);
      
      
    });
    if (q3 > 0) {
      const w = mk("path", {d: "M" + cx + " " + fy(q3) + "V" + fy(whisk) + "M" + (cx - 18) + " " + fy(whisk) + "H" + (cx + 18), fill: "none", stroke: color, "stroke-width": 2.8}, g);
      
      
      const r = mk("rect", {x: cx - 18, y: fy(q3), width: 36, height: fy(0) - fy(q3), fill: "#fff", "fill-opacity": 0, stroke: color, "stroke-width": 2.8}, g);
      
      
    }
    const m = mk("line", {x1: cx - 18, x2: cx + 18, y1: fy(med), y2: fy(med), stroke: color, "stroke-width": 5.5}, g);
    
    
  }
  hCategories.forEach(function (c, i) {
    box(fx(i) - 23.4, hNormalQ3[i], hNormalMedian[i], hNormalWhisker[i], red, hNormalOutliers[i]);
    box(fx(i) + 23.4, hUCQ3[i], hUCMedian[i], hUCWhisker[i], blue, hUCOutliers[i]);
    const tk = mk("line", {x1: fx(i), x2: fx(i), y1: 3134, y2: 3143, stroke: "#000", "stroke-width": 2.5}, g);
    
    
    const x = fx(i) - 3, y = 3153;
    const l = mk("text", {x: x, y: y, "font-size": 29, "font-style": "italic", "class": "serif", "text-anchor": "end", transform: "rotate(-45 " + x + " " + y + ")"}, g, c);
    
    
  });
  hSigCategory.forEach(function (c, i) {
    const y = fy(hSigValue[i]);
    const b = mk("line", {x1: fx(c) - 23.4, x2: fx(c) + 23.4, y1: y, y2: y, stroke: "#000", "stroke-width": 2.2}, g);
    
    
    const l = mk("text", {x: fx(c), y: y - 2, "font-size": 26, "class": "serif", "text-anchor": "middle"}, g, hSigLabels[i]);
    
    
  });
  const hl = mk("rect", {x: 4494, y: 2617, width: 113, height: 506, fill: "none", stroke: "#e8202a", "stroke-width": 3, "stroke-dasharray": "30 14"}, g);
  
  
  axisFrame(g, 3314, 4742, 2449, 3134, 3);
  yAxisTicks(g, hYTicks, hYTicks.map(String), fy, 3314, 7, "serif", 30);
})();
</script>
</body>
</html>
